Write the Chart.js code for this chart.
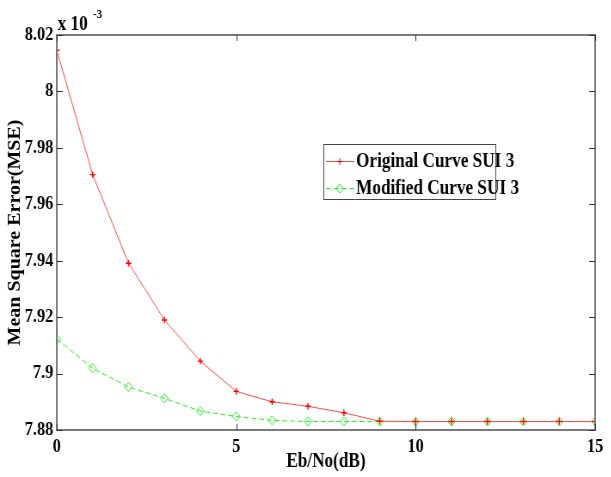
<!DOCTYPE html>
<html>
<head>
<meta charset="utf-8">
<script src="https://cdn.jsdelivr.net/npm/chart.js@4/dist/chart.umd.min.js"></script>
<style>
  html, body { margin: 0; padding: 0; background: #fff; overflow: hidden; }
  /* the original figure is squeezed horizontally, so draw wide and squeeze */
  #wrap { width: 710px; height: 477px; transform: scaleX(0.86); transform-origin: 0 0; }
</style>
</head>
<body>
<div id="wrap"><canvas id="mse" width="710" height="477"></canvas></div>
<script>
// Eb/No values (dB)
var ebno = [0, 1, 2, 3, 4, 5, 6, 7, 8, 9, 10, 11, 12, 13, 14, 15];
// MSE in units of 1e-3
var originalSUI3 = [8.0146, 7.9705, 7.9391, 7.9190, 7.9044, 7.8937, 7.8900, 7.8884, 7.8861, 7.8831, 7.8830, 7.8830, 7.8830, 7.8830, 7.8830, 7.8830];
var modifiedSUI3 = [7.9122, 7.9019, 7.8952, 7.8912, 7.8867, 7.8848, 7.8834, 7.8830, 7.8830, 7.8830, 7.8830, 7.8830, 7.8830, 7.8830, 7.8830, 7.8830];
var xTicks = [0, 5, 10, 15];
var yTicks = [7.88, 7.90, 7.92, 7.94, 7.96, 7.98, 8.00, 8.02];

var serif = "'Liberation Serif', 'DejaVu Serif', serif";

function pts(ys) {
  return ys.map(function (y, i) { return { x: ebno[i], y: y }; });
}

// matlab style box, inner ticks, legend and exponent
var matlabBox = {
  id: 'matlabBox',
  afterDraw: function (chart) {
    var c = chart.ctx, a = chart.chartArea;
    var sx = chart.scales.x, sy = chart.scales.y;
    c.save();
    c.strokeStyle = '#7a7a7a';
    c.lineWidth = 2;
    c.strokeRect(a.left, a.top, a.right - a.left, a.bottom - a.top);
    c.strokeStyle = '#333';
    c.lineWidth = 1;
    c.beginPath();
    xTicks.forEach(function (v) {
      var px = Math.round(sx.getPixelForValue(v)) + 0.5;
      c.moveTo(px, a.bottom); c.lineTo(px, a.bottom - 6);
      c.moveTo(px, a.top); c.lineTo(px, a.top + 6);
    });
    yTicks.forEach(function (v) {
      var py = Math.round(sy.getPixelForValue(v)) + 0.5;
      c.moveTo(a.left, py); c.lineTo(a.left + 7, py);
      c.moveTo(a.right, py); c.lineTo(a.right - 7, py);
    });
    c.stroke();

    // exponent
    c.fillStyle = '#000';
    c.font = 'bold 20px ' + serif;
    c.textBaseline = 'alphabetic';
    c.textAlign = 'left';
    c.fillText('x 10', a.left + 1, a.top - 5);
    c.font = 'bold 13px ' + serif;
    c.fillText('-3', a.left + 42, a.top - 17);

    // legend
    var lx = 376, ly = 144, lw = 200, lh = 55;
    c.fillStyle = '#fff';
    c.fillRect(lx, ly, lw, lh);
    c.strokeStyle = '#444';
    c.lineWidth = 1;
    c.strokeRect(lx + 0.5, ly + 0.5, lw, lh);
    c.font = 'bold 20px ' + serif;
    c.textBaseline = 'middle';
    chart.data.datasets.forEach(function (ds, i) {
      var yy = ly + 17 + i * 27;
      c.strokeStyle = ds.borderColor;
      c.lineWidth = 1;
      c.setLineDash(ds.borderDash || []);
      c.beginPath();
      c.moveTo(lx + 3, yy + 0.5); c.lineTo(lx + 36, yy + 0.5);
      c.stroke();
      c.setLineDash([]);
      c.strokeStyle = ds.pointBorderColor || ds.borderColor;
      c.fillStyle = 'rgba(0,0,0,0)';
      Chart.helpers.drawPoint(c, {
        pointStyle: ds.pointStyle, radius: ds.pointRadius, borderWidth: ds.pointBorderWidth
      }, lx + 19, yy + 0.5);
      c.fillStyle = '#000';
      c.fillText(ds.label, lx + 38, yy + 1);
    });
    c.restore();
  }
};

new Chart(document.getElementById('mse'), {
  type: 'line',
  data: {
    datasets: [{
      label: 'Original Curve SUI 3',
      data: pts(originalSUI3),
      borderColor: '#ff4a4a',
      pointBorderColor: '#ff0000',
      backgroundColor: '#ff0000',
      borderWidth: 1,
      pointStyle: 'cross',
      pointRadius: 3.2,
      pointBorderWidth: 1.4,
      tension: 0,
      fill: false
    }, {
      label: 'Modified Curve SUI 3',
      data: pts(modifiedSUI3),
      borderColor: '#2cf22c',
      pointBorderColor: '#2cf22c',
      backgroundColor: 'rgba(0,0,0,0)',
      borderWidth: 1,
      borderDash: [6, 3],
      pointStyle: 'rectRot',
      pointRadius: 4.5,
      pointBorderWidth: 1,
      tension: 0,
      fill: false
    }]
  },
  options: {
    responsive: false,
    animation: false,
    devicePixelRatio: 1,
    layout: { padding: { top: 35, right: 18, left: 0, bottom: 0 } },
    plugins: { legend: { display: false }, tooltip: { enabled: false } },
    scales: {
      x: {
        type: 'linear',
        min: 0, max: 15,
        grid: { display: false, drawTicks: false },
        border: { display: false },
        afterBuildTicks: function (s) { s.ticks = xTicks.map(function (v) { return { value: v }; }); },
        afterFit: function (s) { s.height = 47; },
        ticks: {
          color: '#000', padding: 6, autoSkip: false,
          font: { family: serif, size: 19, weight: 'bold' },
          maxRotation: 0
        },
        title: {
          display: true, text: 'Eb/No(dB)', color: '#000',
          font: { family: serif, size: 20, weight: 'bold' },
          padding: { top: 0, bottom: 3 }
        }
      },
      y: {
        min: 7.88, max: 8.02,
        grid: { display: false, drawTicks: false },
        border: { display: false },
        afterBuildTicks: function (s) { s.ticks = yTicks.map(function (v) { return { value: v }; }); },
        afterFit: function (s) { s.width = 66; },
        ticks: {
          color: '#000', padding: 4, autoSkip: false,
          font: { family: serif, size: 19, weight: 'bold' },
          callback: function (v) { return String(Number(v.toFixed(2))); }
        },
        title: {
          display: true, text: 'Mean Square Error(MSE)', color: '#000',
          font: { family: serif, size: 20, weight: 'bold' },
          padding: { top: 6, bottom: 0 }
        }
      }
    }
  },
  plugins: [matlabBox]
});
</script>
</body>
</html>
